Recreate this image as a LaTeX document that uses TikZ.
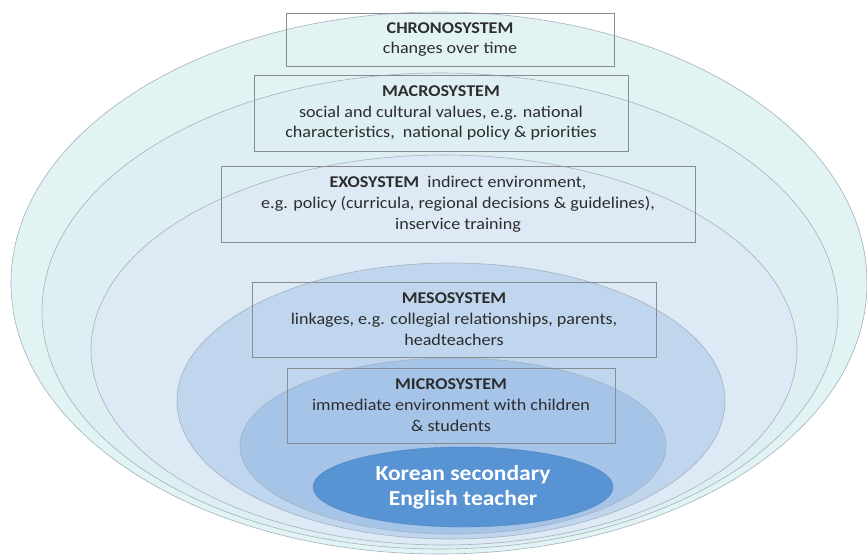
\documentclass[tikz,border=0pt]{standalone}
\usepackage{fontspec}
\setmainfont{Carlito}[FakeStretch=1.1]
\usetikzlibrary{shapes.geometric}
\definecolor{cA}{RGB}{225,243,243}
\definecolor{cB}{RGB}{222,239,243}
\definecolor{cC}{RGB}{221,233,245}
\definecolor{cD}{RGB}{191,214,238}
\definecolor{cE}{RGB}{165,196,231}
\definecolor{cT}{RGB}{88,147,212}
\definecolor{ringline}{RGB}{165,178,190}
\definecolor{boxline}{RGB}{135,140,145}
\definecolor{txt}{RGB}{45,45,45}
\tikzset{
  ring/.style={ellipse, draw=ringline, line width=0.6bp, inner sep=0pt},
  sysbox/.style={draw=boxline, line width=0.8bp, inner sep=0pt, align=center,
    text=txt, font=\fontsize{16.5}{21}\selectfont},
  teacher/.style={ellipse, fill=cT, draw=cT!90!black, line width=0.4bp, inner sep=0pt,
    align=center, text=white, font=\fontsize{21.5}{25}\selectfont\bfseries}
}
\begin{document}
\begin{tikzpicture}[x=1bp,y=-1bp]
\useasboundingbox (0,0) rectangle (867,559);
\fill[white] (0,0) rectangle (867,559);
% nested rings
\node[ring, fill=cA, minimum width=856bp, minimum height=542bp] (chronoring) at (439,283) {};
\node[ring, fill=cB, minimum width=796bp, minimum height=476bp] (macroring) at (440,311) {};
\node[ring, fill=cC, minimum width=706bp, minimum height=390bp] (exoring) at (444,350) {};
\node[ring, fill=cD, minimum width=548bp, minimum height=276bp] (mesoring) at (451,401) {};
\node[ring, fill=cE, minimum width=426bp, minimum height=176bp] (microring) at (453,446) {};
\node[teacher, minimum width=300bp, minimum height=80bp] (teacher) at (463,487)
  {Korean secondary\\English teacher};
% boxes
\node[sysbox, minimum width=328bp, minimum height=53bp] (chrono) at (450,39.5)
  {\textbf{CHRONOSYSTEM}\\changes over time};
\node[sysbox, minimum width=374bp, minimum height=76bp] (macro) at (441,113)
  {\textbf{MACROSYSTEM}\\social and cultural values, e.g. national\\characteristics,\ \ national policy \& priorities};
\node[sysbox, minimum width=474bp, minimum height=76bp] (exo) at (458,204)
  {\textbf{EXOSYSTEM}\ \ indirect environment,\\e.g. policy (curricula, regional decisions \& guidelines),\\inservice training};
\node[sysbox, minimum width=404bp, minimum height=75bp] (meso) at (454,319.5)
  {\textbf{MESOSYSTEM}\\linkages, e.g. collegial relationships, parents,\\headteachers};
\node[sysbox, minimum width=328bp, minimum height=75bp] (micro) at (451,405.5)
  {\textbf{MICROSYSTEM}\\immediate environment with children\\\& students};
\end{tikzpicture}
\end{document}
